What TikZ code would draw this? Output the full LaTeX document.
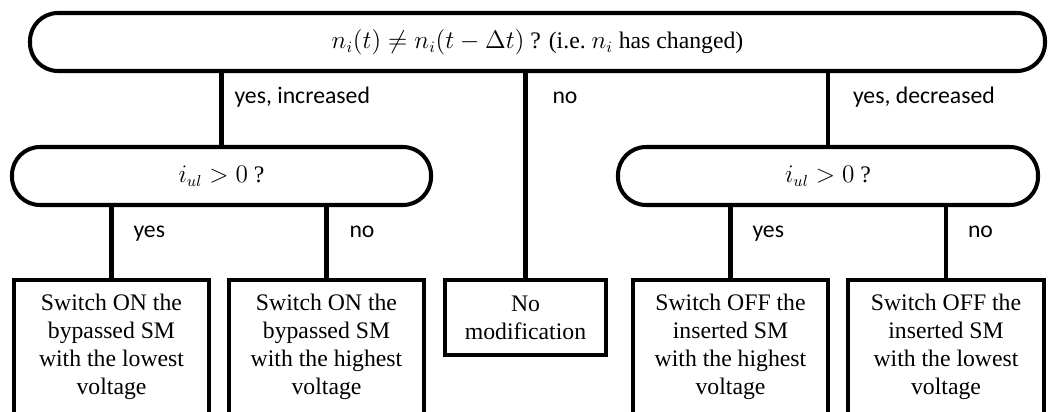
\documentclass[tikz,border=0pt]{standalone}
\usepackage{amsmath}
\usepackage{fontspec}
\setmainfont{Liberation Serif}
\newfontfamily\lblfont{Carlito}
\usepackage{tikz}
\usetikzlibrary{positioning}

\begin{document}
\begin{tikzpicture}[
      test/.style={draw, line width=2.3pt, rounded corners=0.56cm, minimum height=1.16cm, align=center, font=\fontsize{13.5}{16}\selectfont},
      act/.style={draw, line width=2.1pt, minimum width=3.9cm, minimum height=2.68cm, align=center, font=\fontsize{13.5}{16}\selectfont},
      link/.style={line width=2.3pt},
      lbl/.style={inner sep=0pt, text height=0.75em, text depth=0.22em, font=\lblfont\fontsize{13.5}{16}\selectfont}
      ]
    \useasboundingbox (0,0) rectangle (21.16,8.22);
    \clip (0,0) rectangle (21.16,8.22);

    % Tests
    \node[test, minimum width=20.3cm] (chg) at (10.75, 7.38) {$n_i(t) \neq n_i(t-\Delta t)$ ? (i.e.\ $n_i$ has changed)};
    \node[test, minimum width=8.38cm] (incr) at (4.43, 4.70) {$i_{ul} > 0$ ?};
    \node[test, minimum width=8.4cm] (decr) at (16.56, 4.70) {$i_{ul} > 0$ ?};

    % Actions
    \node[act] (onlow) at (2.23, 1.28) {Switch ON the\\bypassed SM\\with the lowest\\voltage};
    \node[act] (onhigh) at (6.53, 1.28) {Switch ON the\\bypassed SM\\with the highest\\voltage};
    \node[act, minimum width=3.22cm, minimum height=1.5cm] (nomod) at (10.51, 1.87) {No\\modification};
    \node[act] (offhigh) at (14.61, 1.28) {Switch OFF the\\inserted SM\\with the highest\\voltage};
    \node[act, minimum width=3.92cm] (offlow) at (18.92, 1.28) {Switch OFF the\\inserted SM\\with the lowest\\voltage};

    % Links
    \draw[link] (incr.north |- chg.south) -- node[lbl, pos=0.36, right=0.22cm] {yes, increased} (incr.north);
    \draw[link] (nomod.north |- chg.south) -- node[lbl, pos=0.126, right=0.5cm] {no} (nomod.north);
    \draw[link] (decr.north |- chg.south) -- node[lbl, pos=0.36, right=0.46cm] {yes, decreased} (decr.north);
    \draw[link] (onlow.north |- incr.south) -- node[lbl, pos=0.37, right=0.4cm] {yes} (onlow.north);
    \draw[link] (onhigh.north |- incr.south) -- node[lbl, pos=0.37, right=0.42cm] {no} (onhigh.north);
    \draw[link] (offhigh.north |- decr.south) -- node[lbl, pos=0.37, right=0.4cm] {yes} (offhigh.north);
    \draw[link] (offlow.north |- decr.south) -- node[lbl, pos=0.37, right=0.4cm] {no} (offlow.north);

\end{tikzpicture}
\end{document}
